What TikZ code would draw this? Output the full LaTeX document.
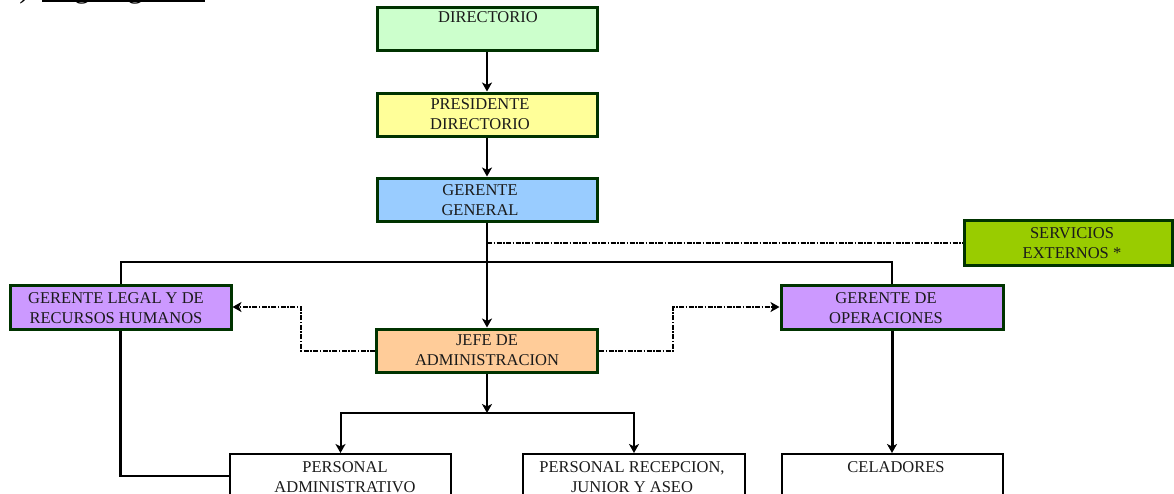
\documentclass[tikz,border=0pt]{standalone}
\usepackage{fontspec}
\setmainfont{Liberation Serif}
\usetikzlibrary{arrows.meta}
\definecolor{bord}{RGB}{0,51,0}
\definecolor{cdir}{HTML}{CCFFCC}
\definecolor{cpres}{HTML}{FFFF99}
\definecolor{cgg}{HTML}{99CCFF}
\definecolor{cserv}{HTML}{99CC00}
\definecolor{cger}{HTML}{CC99FF}
\definecolor{cjefe}{HTML}{FFCC99}
\definecolor{txtc}{HTML}{1A1A1A}
\begin{document}
\begin{tikzpicture}[x=1pt,y=-1pt,
  cbox/.style={draw=bord, line width=3pt, inner sep=0pt},
  wbox/.style={draw=black, line width=2pt, fill=white, inner sep=0pt, minimum height=44pt},
  txt/.style={inner sep=0pt, anchor=north, align=center, text=txtc,
    font=\fontsize{16.5}{20}\selectfont},
  conn/.style={line width=2pt, draw=black},
  arr/.style={conn, -{Stealth[length=9pt,width=10pt,inset=2.5pt]}},
  dashline/.style={line width=2pt, dash pattern=on 5pt off 1.5pt on 1.5pt off 1.5pt},
  dasharr/.style={dashline, -{Stealth[length=9pt,width=10pt,inset=2.5pt]}}]
\useasboundingbox (0,0) rectangle (1174,493);
\clip (0,0) rectangle (1174,493);

% title (cut off at the top)
\node[anchor=base east, inner sep=0pt, font=\fontsize{31}{36}\selectfont] (tpar) at (30,-2.5) {)};
\node[anchor=base west, inner sep=0pt, font=\fontsize{31}{36}\selectfont] (ttitle) at (42,-2.5) {Organigrama};
\draw[line width=2.5pt] (42,0.8) -- (205,0.8);

% boxes
\node[cbox, fill=cdir,  minimum width=220pt, minimum height=43pt] (dir)  at (487,28.5) {};
\node[cbox, fill=cpres, minimum width=220pt, minimum height=43pt] (pres) at (487,114.5) {};
\node[cbox, fill=cgg,   minimum width=220pt, minimum height=43pt] (gg)   at (487,199.5) {};
\node[cbox, fill=cserv, minimum width=208pt, minimum height=45pt] (serv) at (1068,242.5) {};
\node[cbox, fill=cger,  minimum width=221pt, minimum height=44pt] (gl)   at (120.5,307) {};
\node[cbox, fill=cjefe, minimum width=221pt, minimum height=43pt] (jefe) at (487,350.5) {};
\node[cbox, fill=cger,  minimum width=222pt, minimum height=44pt] (gop)  at (892,307) {};
\node[wbox, minimum width=221pt] (padm) at (340.5,476) {};
\node[wbox, minimum width=222pt] (prec) at (634,476) {};
\node[wbox, minimum width=221pt] (cel)  at (892,476) {};

% texts
\node[txt] (tdir)  at (488,11.5)  {DIRECTORIO};
\node[txt] (tpres) at (480,98.5)  {PRESIDENTE\\DIRECTORIO};
\node[txt] (tgg)   at (480,184.5) {GERENTE\\GENERAL};
\node[txt] (tserv) at (1072,227.2) {SERVICIOS\\EXTERNOS *};
\node[txt] (tgl)   at (116,292.2) {GERENTE LEGAL Y DE\\RECURSOS HUMANOS};
\node[txt] (tjefe) at (487,334.5) {JEFE DE\\ADMINISTRACION};
\node[txt] (tgop)  at (886,292.2) {GERENTE DE\\OPERACIONES};
\node[txt] (tpadm) at (345,461.2) {PERSONAL\\ADMINISTRATIVO};
\node[txt] (tprec) at (632,461.2) {PERSONAL RECEPCION,\\JUNIOR Y ASEO};
\node[txt] (tcel)  at (896,461.2) {CELADORES};

% connectors
\draw[arr] (dir.south) -- (pres.north);
\draw[arr] (pres.south) -- (gg.north);
\draw[arr] (gg.south) -- (jefe.north);
\draw[conn] (gl.north) -- ++(0,-22) -| (gop.north);
\draw[conn, line width=2.5pt] (gl.south) |- (padm.west);
\draw[dashline] (gg.south |- serv.west) -- (serv.west);
\draw[dasharr] (jefe.west) -- ++(-74,0) |- (gl.east);
\draw[dasharr] (jefe.east) -- ++(74,0) |- (gop.west);
\coordinate (split) at (487,413);
\draw[arr] (jefe.south) -- (split);
\draw[arr] (split) -| (padm.north);
\draw[arr] (split) -| (prec.north);
\draw[arr, line width=3pt] (gop.south) -- (cel.north);
\end{tikzpicture}
\end{document}
